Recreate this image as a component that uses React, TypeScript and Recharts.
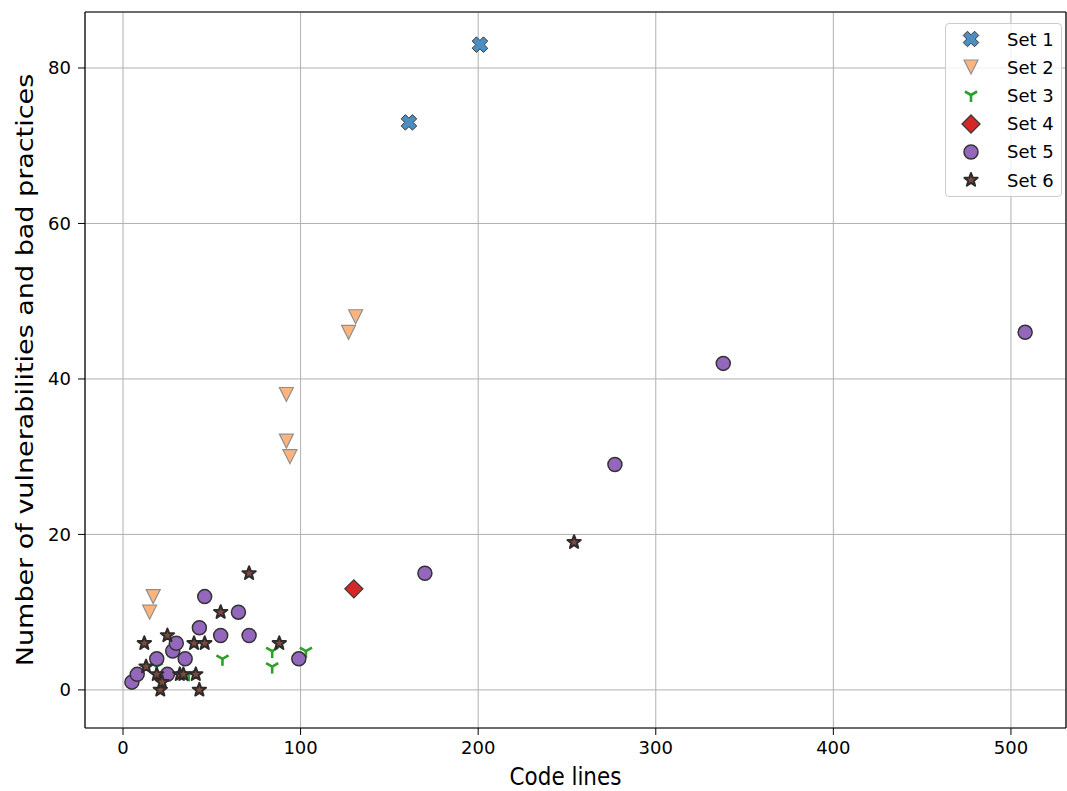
import React from "react"
import {
  ScatterChart,
  Scatter,
  XAxis,
  YAxis,
  CartesianGrid,
  Legend,
  ReferenceLine,
} from "recharts"

// values (code lines, findings)
const set1 = [
  { x: 161, y: 73 },
  { x: 201, y: 83 },
]
const set2 = [
  { x: 17, y: 12 },
  { x: 15, y: 10 },
  { x: 92, y: 38 },
  { x: 92, y: 32 },
  { x: 94, y: 30 },
  { x: 127, y: 46 },
  { x: 131, y: 48 },
]
const set3 = [
  { x: 19, y: 3 },
  { x: 37, y: 2 },
  { x: 56, y: 4 },
  { x: 84, y: 5 },
  { x: 84, y: 3 },
  { x: 103, y: 5 },
]
const set4 = [{ x: 130, y: 13 }]
const set5 = [
  { x: 5, y: 1 },
  { x: 8, y: 2 },
  { x: 19, y: 4 },
  { x: 25, y: 2 },
  { x: 28, y: 5 },
  { x: 30, y: 6 },
  { x: 35, y: 4 },
  { x: 43, y: 8 },
  { x: 46, y: 12 },
  { x: 55, y: 7 },
  { x: 65, y: 10 },
  { x: 71, y: 7 },
  { x: 99, y: 4 },
  { x: 170, y: 15 },
  { x: 277, y: 29 },
  { x: 338, y: 42 },
  { x: 508, y: 46 },
]
const set6 = [
  { x: 12, y: 6 },
  { x: 13, y: 3 },
  { x: 19, y: 2 },
  { x: 21, y: 0 },
  { x: 22, y: 1 },
  { x: 25, y: 7 },
  { x: 32, y: 2 },
  { x: 34, y: 2 },
  { x: 40, y: 6 },
  { x: 41, y: 2 },
  { x: 43, y: 0 },
  { x: 46, y: 6 },
  { x: 55, y: 10 },
  { x: 71, y: 15 },
  { x: 88, y: 6 },
  { x: 254, y: 19 },
]

const seriesNames = ["Set 1", "Set 2", "Set 3", "Set 4", "Set 5", "Set 6"]
const xTicks = [0, 100, 200, 300, 400, 500]
const yTicks = [0, 20, 40, 60, 80]
const X_DOMAIN = [-21.4, 531]
const Y_DOMAIN = [-4.9, 87.2]

const FONT = "DejaVu Sans"

const XMark = ({ cx, cy, s = 8, a = 3 }: any) => {
  const pts = [
    [-a, -s], [a, -s], [a, -a], [s, -a], [s, a], [a, a],
    [a, s], [-a, s], [-a, a], [-s, a], [-s, -a], [-a, -a],
  ]
    .map(([x, y]) => `${cx + (x - y) / Math.SQRT2},${cy + (x + y) / Math.SQRT2}`)
    .join(" ")
  return <polygon points={pts} fill="#4a8ec2" stroke="#3a3a3a" strokeWidth={1} />
}

const TriDown = ({ cx, cy, r = 7 }: any) => (
  <polygon
    points={`${cx - r},${cy - r} ${cx + r},${cy - r} ${cx},${cy + r}`}
    fill="#ffb47e"
    stroke="#8f8f8f"
    strokeWidth={1.2}
  />
)

const Wye = ({ cx, cy, r = 7 }: any) => (
  <g stroke="#2ca02c" strokeWidth={2.6} fill="none">
    <line x1={cx} y1={cy} x2={cx} y2={cy + r} />
    <line x1={cx} y1={cy} x2={cx - 0.866 * r} y2={cy - 0.5 * r} />
    <line x1={cx} y1={cy} x2={cx + 0.866 * r} y2={cy - 0.5 * r} />
  </g>
)

const Diamond = ({ cx, cy, r = 9 }: any) => (
  <polygon
    points={`${cx},${cy - r} ${cx + r},${cy} ${cx},${cy + r} ${cx - r},${cy}`}
    fill="#d62728"
    stroke="#3a3a3a"
    strokeWidth={1.3}
  />
)

const Dot = ({ cx, cy, r = 7 }: any) => (
  <circle cx={cx} cy={cy} r={r} fill="#9467bd" stroke="#333333" strokeWidth={1.5} />
)

const Star = ({ cx, cy, r = 7 }: any) => {
  const pts: string[] = []
  for (let i = 0; i < 10; i++) {
    const rad = i % 2 === 0 ? r : r * 0.42
    const ang = -Math.PI / 2 + (i * Math.PI) / 5
    pts.push(`${cx + rad * Math.cos(ang)},${cy + rad * Math.sin(ang)}`)
  }
  return (
    <polygon points={pts.join(" ")} fill="#7a4a40" stroke="#2f2a2a" strokeWidth={2} strokeLinejoin="round" />
  )
}

const markers = [XMark, TriDown, Wye, Diamond, Dot, Star]

const renderLegend = () => (
  <div
    style={{
      width: 117,
      height: 174,
      boxSizing: "border-box",
      background: "rgba(255,255,255,0.8)",
      border: "1px solid #cccccc",
      borderRadius: 4,
      paddingTop: 1,
      fontFamily: FONT,
      fontSize: 18,
      color: "#000",
    }}
  >
    {seriesNames.map((name, i) => {
      const M = markers[i]
      return (
        <div key={name} style={{ height: 28.2, display: "flex", alignItems: "center" }}>
          <svg width={50} height={24}>
            <M cx={25} cy={12} />
          </svg>
          <span style={{ marginLeft: 11 }}>{name}</span>
        </div>
      )
    })}
  </div>
)

const shapeOf = (M: any) => (props: any) => <M cx={props.cx} cy={props.cy} />

const renderXLabel = (props: any) => {
  const vb = props.viewBox || { x: 85, y: 728, width: 981, height: 63 }
  const cx = vb.x + vb.width / 2 - 10
  return (
    <text
      transform={`translate(${cx},${vb.y + 57}) scale(0.86,1)`}
      textAnchor="middle"
      fontFamily={FONT}
      fontSize={25}
      fill="#000"
    >
      Code lines
    </text>
  )
}

const renderYLabel = (props: any) => {
  const vb = props.viewBox || { x: 0, y: 12, width: 85, height: 716 }
  const cy = vb.y + vb.height / 2
  return (
    <text
      transform={`translate(33,${cy}) scale(0.86,1) rotate(-90)`}
      textAnchor="middle"
      fontFamily={FONT}
      fontSize={27}
      fill="#000"
    >
      Number of vulnerabilities and bad practices
    </text>
  )
}

export default function App() {
  const tickStyle = { fontFamily: FONT, fontSize: 18, fill: "#000" }
  return (
    <div style={{ position: "absolute", left: 0, top: 0, width: 1067, height: 791, background: "#fff" }}>
      <ScatterChart
        width={1067}
        height={791}
        margin={{ top: 12, right: 1, bottom: 0, left: 0 }}
      >
        <CartesianGrid stroke="#b0b0b0" strokeWidth={1} />
        <XAxis
          type="number"
          dataKey="x"
          domain={X_DOMAIN}
          ticks={xTicks}
          allowDataOverflow
          height={63}
          stroke="#000"
          tickSize={7}
          tickMargin={6}
          tick={tickStyle}
          tickLine={{ stroke: "#000" }}
          axisLine={{ stroke: "#000", strokeWidth: 1.2 }}
          label={renderXLabel}
        />
        <YAxis
          type="number"
          dataKey="y"
          domain={Y_DOMAIN}
          ticks={yTicks}
          allowDataOverflow
          width={85}
          stroke="#000"
          tickSize={7}
          tickMargin={7}
          tick={tickStyle}
          tickLine={{ stroke: "#000" }}
          axisLine={{ stroke: "#000", strokeWidth: 1.2 }}
          label={renderYLabel}
        />
        <ReferenceLine y={Y_DOMAIN[1]} stroke="#000" strokeWidth={1.2} />
        <ReferenceLine x={X_DOMAIN[1]} stroke="#000" strokeWidth={1.2} />
        <Scatter name="Set 1" data={set1} shape={shapeOf(XMark)} isAnimationActive={false} />
        <Scatter name="Set 2" data={set2} shape={shapeOf(TriDown)} isAnimationActive={false} />
        <Scatter name="Set 3" data={set3} shape={shapeOf(Wye)} isAnimationActive={false} />
        <Scatter name="Set 4" data={set4} shape={shapeOf(Diamond)} isAnimationActive={false} />
        <Scatter name="Set 5" data={set5} shape={shapeOf(Dot)} isAnimationActive={false} />
        <Scatter name="Set 6" data={set6} shape={shapeOf(Star)} isAnimationActive={false} />
        <Legend
          layout="vertical"
          align="center"
          verticalAlign="middle"
          content={renderLegend}
          wrapperStyle={{ left: 945, top: 23, width: 117, height: 174 }}
        />
      </ScatterChart>
    </div>
  )
}
